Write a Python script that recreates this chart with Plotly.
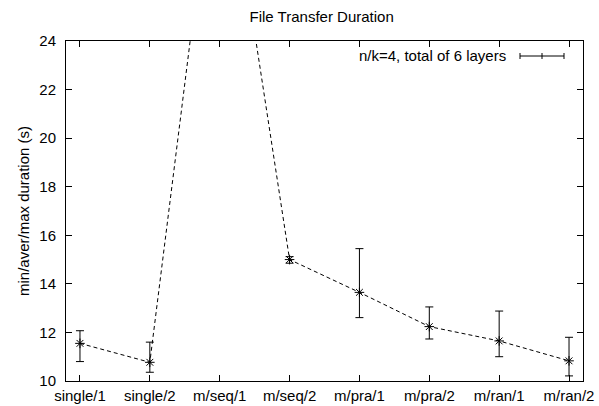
import plotly.graph_objects as go

categories = ["single/1", "single/2", "m/seq/1", "m/seq/2", "m/pra/1", "m/pra/2", "m/ran/1", "m/ran/2"]
avg_vals = [11.55, 10.77, 33.7, 15.0, 13.65, 12.24, 11.65, 10.83]
min_vals = [10.8, 10.36, 33.0, 14.85, 12.61, 11.73, 11.0, 10.21]
max_vals = [12.07, 11.6, 34.5, 15.12, 15.45, 13.05, 12.88, 11.8]
y_ticks = [10, 12, 14, 16, 18, 20, 22, 24]
legend_label = "n/k=4, total of 6 layers"

x_idx = list(range(len(categories)))
err_plus = [mx - a for mx, a in zip(max_vals, avg_vals)]
err_minus = [a - mn for mn, a in zip(min_vals, avg_vals)]

font_family = "Liberation Sans"
FS = 15

fig = go.Figure()
fig.add_trace(go.Scatter(
    x=x_idx, y=avg_vals, mode="lines+markers",
    line=dict(color="black", width=1, dash="4px,3px"),
    marker=dict(symbol="asterisk-open", size=8, color="black", line=dict(color="black", width=1)),
    error_y=dict(type="data", symmetric=False, array=err_plus, arrayminus=err_minus,
                 color="black", thickness=1, width=4),
    showlegend=False, cliponaxis=True,
))

axis_common = dict(
    showline=True, linecolor="black", linewidth=1, mirror="ticks",
    ticks="inside", ticklen=6, tickcolor="black", tickwidth=1,
    showgrid=False, zeroline=False, automargin=False,
    tickfont=dict(family=font_family, size=FS, color="black"),
)

fig.update_layout(
    width=599, height=406,
    margin=dict(l=66, r=16, t=41, b=25),
    paper_bgcolor="white", plot_bgcolor="white",
    title=dict(text="File Transfer Duration", x=0.537, xanchor="center", y=0.958, yanchor="middle",
               font=dict(family=font_family, size=FS, color="black")),
    xaxis=dict(range=[-0.2, 7.2], tickmode="array", tickvals=x_idx, ticktext=categories,
               ticklabelstandoff=1, **axis_common),
    yaxis=dict(range=[10, 24], tickmode="array", tickvals=y_ticks,
               ticktext=[str(v) for v in y_ticks], ticklabelstandoff=6,
               title=dict(text="min/aver/max duration (s)", standoff=6,
                          font=dict(family=font_family, size=FS, color="black")),
               **axis_common),
    font=dict(family=font_family, color="black"),
)

def px(x):
    return (x - 66) / (583 - 66)
def py(y):
    return 1 - (y - 41) / (381 - 41)

fig.add_annotation(text=legend_label, xref="paper", yref="paper", x=px(508), y=py(56),
                   xanchor="right", yanchor="middle", showarrow=False,
                   font=dict(family=font_family, size=FS, color="black"))
ly = py(56)
fig.add_shape(type="line", xref="paper", yref="paper", x0=px(520), x1=px(564), y0=ly, y1=ly,
              line=dict(color="black", width=1))
for xx in (520, 542, 564):
    fig.add_shape(type="line", xref="paper", yref="paper", x0=px(xx), x1=px(xx),
                  y0=py(53), y1=py(59), line=dict(color="black", width=1))

fig.write_html("out.html", config={"displayModeBar": False},
               post_script="document.body.style.margin='0';document.body.style.overflow='hidden';")
